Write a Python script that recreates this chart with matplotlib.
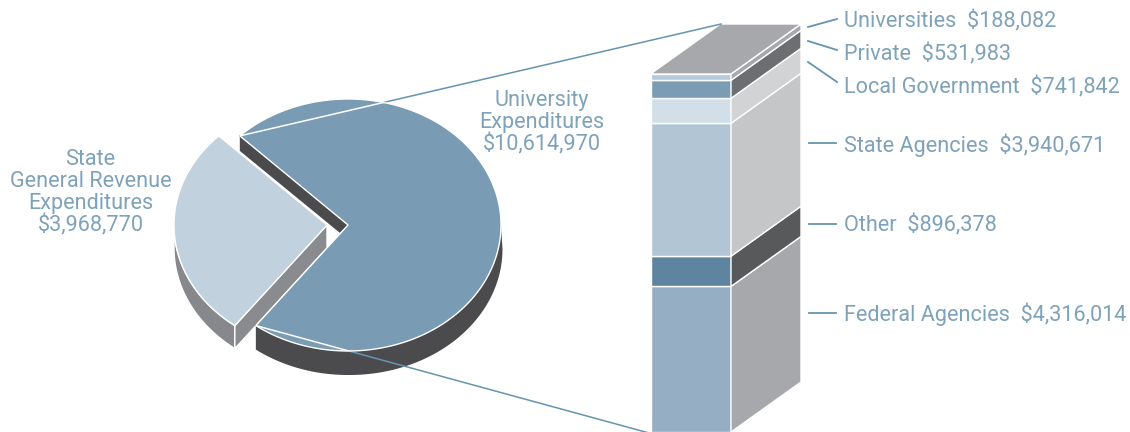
import numpy as np
import matplotlib
matplotlib.use('Agg')
import matplotlib.pyplot as plt
from matplotlib.patches import Polygon

state_revenue = 3968770
university_total = 10614970

sources = ['Federal Agencies', 'Other', 'State Agencies', 'Local Government', 'Private', 'Universities']
amounts = [4316014, 896378, 3940671, 741842, 531983, 188082]
front_colors = ['#95aec3', '#5e84a0', '#b2c5d5', '#d3dfe8', '#7a9db5', '#b5c9d8']
side_colors = ['#a7a8ab', '#58595b', '#c5c6c8', '#d2d3d5', '#6d6e71', '#a7a8ab']

text_color = '#7ea2ba'
line_color = '#6594b0'
font = {'family': 'Roboto', 'weight': 'normal'}
font_size = 15.6

# pie geometry, drawing units are pixels
cx, cy = 348, 225
rx, ry = 153, 126
depth = 24
state_shift = 21
start_angle = 135


def rim(t1, t2, dx=0.0, dy=0.0):
    t = np.radians(np.linspace(t1, t2, 200))
    return np.column_stack([cx + dx + rx * np.cos(t), cy + dy - ry * np.sin(t)])


def face(ax, pts, color, zorder=2, lw=1.0):
    patch = Polygon(pts, closed=True, facecolor=color, edgecolor='white', linewidth=lw, zorder=zorder)
    ax.add_patch(patch)
    return patch


def draw_pie(ax):
    sweep = 360 * state_revenue / (state_revenue + university_total)
    end_angle = start_angle + sweep

    # thickness of the large slice
    top = rim(end_angle, 360)
    bottom = rim(360, end_angle, dy=depth)
    bottom[:, 0] += 1.5 * (bottom[:, 0] > cx)
    ax.add_patch(Polygon(np.vstack([top, bottom]), closed=True, facecolor='#4b4b4d', edgecolor='none', zorder=1))

    p_start = rim(start_angle, start_angle)[0]
    p_end = rim(end_angle, end_angle)[0]

    # inner wall seen through the gap
    inner = [p_start, (cx, cy), (cx - 8, cy + 8), (p_start[0], p_start[1] + 15)]
    ax.add_patch(Polygon(inner, closed=True, facecolor='#4b4b4d', edgecolor='none', zorder=1))

    # leader lines towards the bar
    bar_corner_top = (721, 24)
    bar_corner_bottom = (649, 433)
    ax.plot([p_start[0], bar_corner_top[0]], [p_start[1], bar_corner_top[1]], color=line_color, lw=1.1, zorder=3)
    ax.plot([p_end[0], bar_corner_bottom[0]], [p_end[1], bar_corner_bottom[1]], color=line_color, lw=1.1, zorder=3)

    main_pts = np.vstack([[(cx, cy)], rim(end_angle, start_angle + 360)])
    main_face = face(ax, main_pts, '#7a9bb4', zorder=4)

    # same lines turn white where they cross the slice
    for p, end in ((p_start, bar_corner_top), (p_end, bar_corner_bottom)):
        ln, = ax.plot([p[0], end[0]], [p[1], end[1]], color='white', lw=1.1, zorder=5)
        ln.set_clip_path(main_face)

    # pulled out slice
    dx = -state_shift
    s_depth = depth - 1
    side = np.vstack([rim(180, end_angle, dx=dx), rim(end_angle, 180, dx=dx, dy=s_depth)])
    face(ax, side, '#87888b', zorder=2)
    s_end = rim(end_angle, end_angle, dx=dx)[0]
    wall = [s_end, (cx + dx, cy), (cx + dx, cy + s_depth), (s_end[0], s_end[1] + s_depth)]
    face(ax, wall, '#8a8b8e', zorder=2)
    state_pts = np.vstack([[(cx + dx, cy)], rim(start_angle, end_angle, dx=dx)])
    face(ax, state_pts, '#c1d1de', zorder=4)


def draw_bar(ax):
    # stacked column with an oblique side and top
    x0, x1 = 650.5, 731
    y_base, y_top = 432, 74
    ox, oy = 70, -50
    scale = (y_base - y_top) / sum(amounts)

    y = y_base
    for amount, front, side in zip(amounts, front_colors, side_colors):
        h = amount * scale
        ax.bar((x0 + x1) / 2, h, width=x1 - x0, bottom=y - h, color=front, edgecolor='white', linewidth=1.0, zorder=2)
        face(ax, [(x1, y), (x1 + ox, y + oy), (x1 + ox, y - h + oy), (x1, y - h)], side, zorder=2)
        y -= h

    face(ax, [(x0, y), (x1, y), (x1 + ox, y + oy), (x0 + ox, y + oy)], '#a7a8ab', zorder=2)


def draw_labels(ax):
    # y position and leader line of every bar label
    label_y = [314.5, 225.5, 145.5, 87.5, 54.5, 21.5]
    leaders = [((809, 313), (836, 313)), ((809, 224), (836, 224)), ((809, 143), (836, 143)),
               ((808, 62), (837, 82)), ((808, 41), (837, 50)), ((808, 27), (837, 19))]
    for name, amount, y, (a, b) in zip(sources, amounts, label_y, leaders):
        ax.plot([a[0], b[0]], [a[1], b[1]], color=line_color, lw=1.3, zorder=3)
        ax.text(844, y, f'{name}  ${amount:,}', color=text_color, fontsize=font_size, va='center', ha='left', **font)

    ax.text(542, 123, f'University\nExpenditures\n${university_total:,}', color=text_color, fontsize=font_size,
            ha='center', va='center', linespacing=1.05, **font)
    ax.text(90.5, 193, f'State\nGeneral Revenue\nExpenditures\n${state_revenue:,}', color=text_color, fontsize=font_size,
            ha='center', va='center', linespacing=1.05, **font)


fig = plt.figure(figsize=(11.3, 4.32), dpi=100)
ax = fig.add_axes([0, 0, 1, 1])
ax.set_xlim(0, 1130)
ax.set_ylim(432, 0)
ax.axis('off')

draw_pie(ax)
draw_bar(ax)
draw_labels(ax)

fig.savefig('out.png', dpi=100)
